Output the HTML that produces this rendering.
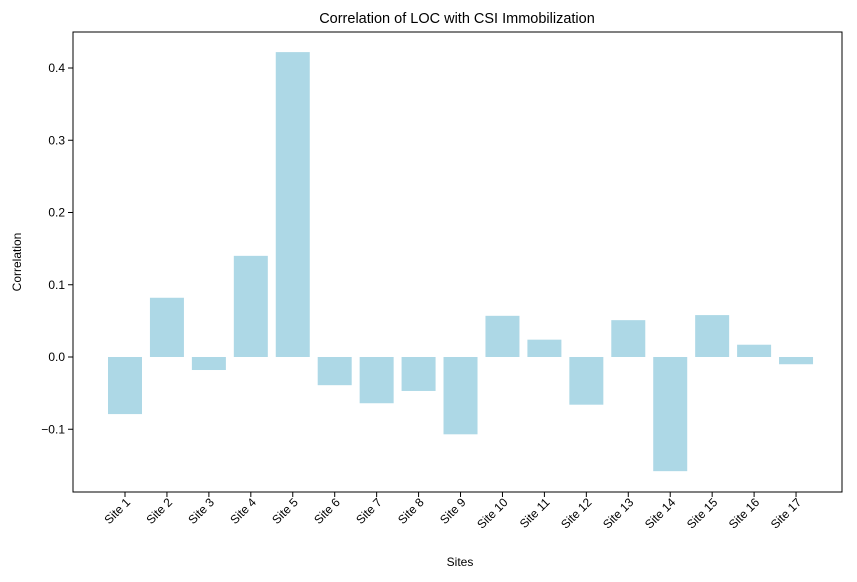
<!DOCTYPE html>
<html><head><meta charset="utf-8"><style>
body{margin:0;background:#fff;}
svg text{font-family:"Liberation Sans","DejaVu Sans",sans-serif;}
</style></head><body>
<svg id="chart" width="857" height="577" xmlns="http://www.w3.org/2000/svg">
<rect width="857" height="577" fill="#fff"/>
<text x="457" y="23" text-anchor="middle" font-size="14.5">Correlation of LOC with CSI Immobilization</text>
<g id="bars"></g>
<g id="yt"></g>
<g id="xt"></g>
<rect x="73" y="32" width="769" height="460" fill="none" stroke="#000" stroke-width="1"/>
<text x="460" y="566" text-anchor="middle" font-size="12">Sites</text>
<text transform="translate(21,262) rotate(-90)" text-anchor="middle" font-size="12">Correlation</text>
</svg>
<script>
const categories=["Site 1","Site 2","Site 3","Site 4","Site 5","Site 6","Site 7","Site 8","Site 9","Site 10","Site 11","Site 12","Site 13","Site 14","Site 15","Site 16","Site 17"];
const values=[-0.079,0.082,-0.018,0.140,0.422,-0.039,-0.064,-0.047,-0.107,0.057,0.024,-0.066,0.051,-0.158,0.058,0.017,-0.010];
const yTicks=[-0.1,0.0,0.1,0.2,0.3,0.4];
const yTickLabels=["\u22120.1","0.0","0.1","0.2","0.3","0.4"];
const NS="http://www.w3.org/2000/svg";
function y(v){return 357-v*722.5;}
function x(i){return 125+i*41.94;}
const bw=34;
const bars=document.getElementById('bars');
values.forEach((v,i)=>{
 const r=document.createElementNS(NS,'rect');
 
 
 r.setAttribute('x',x(i)-bw/2);r.setAttribute('width',bw);
 r.setAttribute('y',Math.min(y(v),y(0)));r.setAttribute('height',Math.abs(y(v)-y(0)));
 r.setAttribute('fill','#add8e6');bars.appendChild(r);
});
const yt=document.getElementById('yt');
yTicks.forEach((t,i)=>{
 const l=document.createElementNS(NS,'line');
 
 
 l.setAttribute('x1',68);l.setAttribute('x2',73);l.setAttribute('y1',y(t));l.setAttribute('y2',y(t));l.setAttribute('stroke','#000');
 yt.appendChild(l);
 const tx=document.createElementNS(NS,'text');
 
 
 tx.setAttribute('x',65);tx.setAttribute('y',y(t)+4);tx.setAttribute('text-anchor','end');tx.setAttribute('font-size','12');
 tx.textContent=yTickLabels[i];yt.appendChild(tx);
});
const xt=document.getElementById('xt');
categories.forEach((c,i)=>{
 const l=document.createElementNS(NS,'line');
 
 
 l.setAttribute('x1',x(i));l.setAttribute('x2',x(i));l.setAttribute('y1',492);l.setAttribute('y2',497);l.setAttribute('stroke','#000');
 xt.appendChild(l);
 const tx=document.createElementNS(NS,'text');
 
 
 tx.setAttribute('transform','translate('+(x(i)+6)+',503) rotate(-45)');
 tx.setAttribute('text-anchor','end');tx.setAttribute('font-size','12');
 tx.textContent=c;xt.appendChild(tx);
});
</script>
</body></html>
